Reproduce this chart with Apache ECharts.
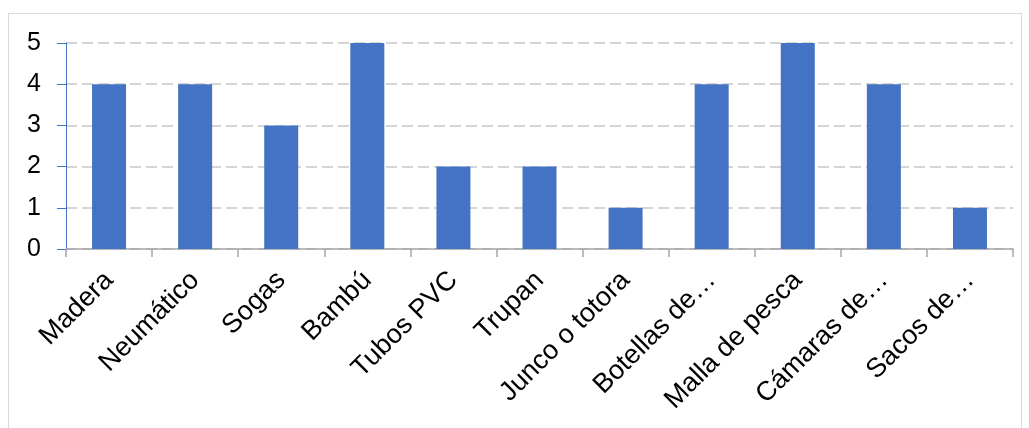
<!DOCTYPE html>
<html>
<head>
<meta charset="utf-8">
<script src="https://cdn.jsdelivr.net/npm/echarts@6/dist/echarts.min.js"></script>
<style>
html,body{margin:0;padding:0;background:#fff;}
#frame{position:absolute;left:8px;top:13px;width:1014px;height:430px;border:1px solid #d9d9d9;box-sizing:border-box;}
#chart{position:absolute;left:0;top:0;width:1029px;height:428px;}
</style>
</head>
<body>
<div id="frame"></div>
<div id="chart"></div>
<script>
const categories = ["Madera","Neumático","Sogas","Bambú","Tubos PVC","Trupan","Junco o totora","Botellas de…","Malla de pesca","Cámaras de…","Sacos de…"];
const values = [4,4,3,5,2,2,1,4,5,4,1];
const yTicks = [0,1,2,3,4,5];

const chart = echarts.init(document.getElementById('chart'));
chart.setOption({
  animation:false,
  textStyle:{fontFamily:'"Liberation Sans", Arial, sans-serif'},
  grid:{left:66,right:16,top:43,bottom:179,containLabel:false},
  xAxis:{
    type:'category',
    data:categories,
    boundaryGap:true,
    axisLine:{show:true,lineStyle:{color:'#a6a6a6',width:1.5}},
    axisTick:{show:true,length:8,alignWithLabel:false,lineStyle:{color:'#a6a6a6',width:1.5}},
    axisLabel:{rotate:45,interval:0,color:'#000',fontSize:27,margin:27,fontFamily:'"Liberation Sans", Arial, sans-serif'}
  },
  yAxis:{
    type:'value',
    min:yTicks[0],
    max:yTicks[yTicks.length-1],
    interval:1,
    axisLine:{show:true,lineStyle:{color:'#4472C4',width:1}},
    axisTick:{show:true,length:9,lineStyle:{color:'#4472C4',width:1}},
    axisLabel:{color:'#000',fontSize:25,margin:25,fontFamily:'"Liberation Sans", Arial, sans-serif'},
    splitLine:{show:true,lineStyle:{color:'#c8c8c8',width:1.5,type:[11,5]}}
  },
  series:[{
    type:'bar',
    data:values,
    barWidth:34,
    itemStyle:{color:'#4472C4'}
  }]
});
</script>
</body>
</html>
